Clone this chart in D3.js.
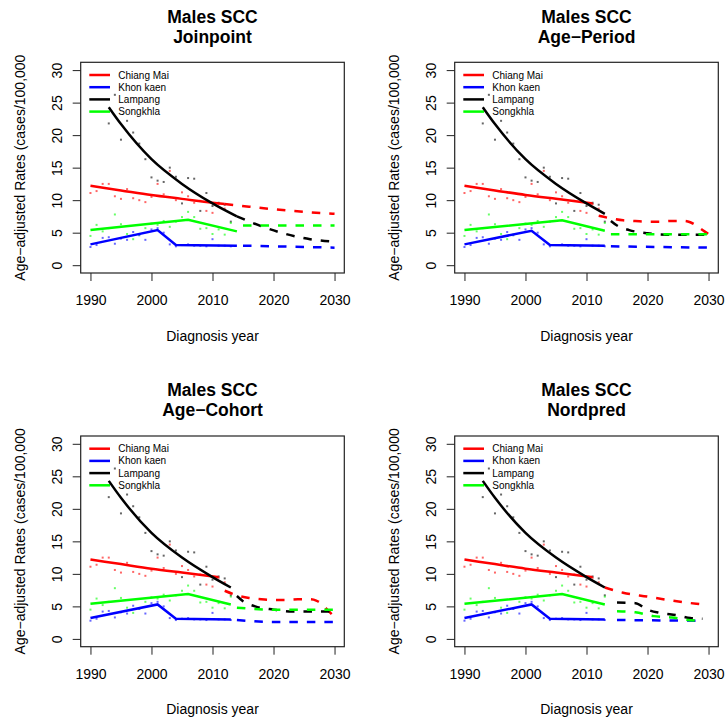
<!DOCTYPE html>
<html>
<head>
<meta charset="utf-8">
<script src="https://cdn.jsdelivr.net/npm/d3@7"></script>
<style>
  body { margin: 0; background: #fff; }
  svg text { font-family: "Liberation Sans", Arial, sans-serif; fill: #000; }
</style>
</head>
<body>
<div id="chart"></div>
<script>
// ---- data ----
const panelTitles = ["Joinpoint", "Age\u2212Period", "Age\u2212Cohort", "Nordpred"];
const regions = ["Chiang Mai", "Khon kaen", "Lampang", "Songkhla"];
const regionColors = ["#ff0000", "#0000ff", "#000000", "#00ff00"];
const xTicks = [1990, 2000, 2010, 2020, 2030];
const yTicks = [0, 5, 10, 15, 20, 25, 30];

// observed rates (dots)
const obsChiangMai = [[1990,11.1],[1991,11.4],[1992,12.5],[1993,12.5],[1994,10.6],[1995,10.2],[1996,11.7],[1997,10.3],[1998,10.0],[1999,9.7],[2000,10.5],[2001,12.5],[2002,10.9],[2003,14.5],[2004,10.0],[2005,11.2],[2006,10.6],[2007,9.6],[2008,9.9],[2009,8.35],[2010,8.05],[2011,9.4],[2012,8.7]];
const obsKhonKaen = [[1990,2.8],[1991,3.1],[1992,4.2],[1993,4.3],[1994,3.3],[1995,4.1],[1996,3.9],[1997,5.1],[1998,4.6],[1999,3.9],[2000,5.5],[2001,5.7],[2002,5.0],[2003,3.2],[2004,2.9],[2005,3.1],[2006,3.2],[2007,3.0],[2008,3.0],[2009,2.9],[2010,4.0],[2011,3.0],[2012,3.0],[2013,2.9]];
const obsLampang = [[1993,21.8],[1994,26.2],[1995,19.3],[1996,22.2],[1997,20.4],[1998,18.7],[1999,16.3],[2000,13.5],[2001,13.0],[2002,12.8],[2003,15.0],[2004,13.6],[2005,9.5],[2006,13.4],[2007,13.3],[2008,8.35],[2009,11.1],[2010,9.1],[2011,9.6],[2012,9.3],[2013,6.7]];
const obsSongkhla = [[1990,4.5],[1991,6.2],[1992,5.2],[1993,5.7],[1994,7.8],[1995,6.3],[1996,4.8],[1997,4.0],[1998,4.7],[1999,5.7],[2000,6.4],[2001,6.2],[2002,6.8],[2003,5.9],[2004,6.7],[2005,7.4],[2006,8.2],[2007,7.4],[2008,5.6],[2009,5.7],[2010,4.8],[2011,5.5],[2012,4.7],[2013,6.5]];

// fitted lines (solid), joinpoint panel
const solidJoinpoint = [
  [[1990,12.2],[1995,11.5],[2000,10.8],[2005,10.2],[2010,9.6],[2012,9.4]],
  [[1990,3.2],[2001,5.4],[2004,3.1],[2014,3.0]],
  [[1993,24.3],[1995,21.7],[2000,16.3],[2005,12.5],[2010,9.5],[2014,7.5]],
  [[1990,5.4],[2006,7.0],[2014,5.2]]
];
// fitted lines (solid), the other three panels
const solidOther = [
  [[1990,12.2],[1995,11.5],[2000,10.8],[2005,10.2],[2011,9.5]],
  [[1990,3.2],[2001,5.3],[2004,3.1],[2013,3.0]],
  [[1993,24.3],[1995,21.7],[2000,16.3],[2005,12.5],[2010,9.5],[2013,7.9]],
  [[1990,5.4],[2006,6.9],[2013,5.3]]
];

// projections (dashed)
const dashJoinpoint = [
  [[2012,9.4],[2016,9.0],[2020,8.6],[2025,8.2],[2030,7.9]],
  [[2015,3.0],[2030,2.7]],
  [[2014,7.5],[2018,6.0],[2022,4.8],[2026,4.0],[2030,3.6]],
  [[2015,6.1],[2030,6.1]]
];
const dashAgePeriod = [
  [[2012,7.6],[2014,7.2],[2016,6.9],[2018,6.8],[2020,6.7],[2022,6.7],[2024,6.8],[2026,6.8],[2027,6.6],[2028,6.1],[2029,5.4],[2030,4.8]],
  [[2014,2.9],[2030,2.7]],
  [[2014,6.8],[2015,6.1],[2017,5.4],[2020,4.9],[2023,4.7],[2030,4.7]],
  [[2014,4.75],[2030,4.75]]
];
const dashAgeCohort = [
  [[2012,7.4],[2014,6.7],[2016,6.3],[2018,6.1],[2020,6.0],[2022,6.0],[2024,6.1],[2026,6.1],[2027,5.9],[2028,5.3],[2029,4.3],[2030,3.4]],
  [[2014,2.9],[2020,2.6],[2030,2.6]],
  [[2014,6.6],[2015,5.8],[2017,5.0],[2020,4.5],[2023,4.2],[2030,4.2]],
  [[2014,4.8],[2020,4.5],[2030,4.5]]
];
const dashNordpred = [
  [[2013,7.9],[2016,7.1],[2020,6.5],[2024,5.9],[2028,5.4],[2029,5.3]],
  [[2015,2.9],[2028,2.8]],
  [[2015,5.6],[2018,5.5],[2020,4.5],[2022,4.0],[2025,3.6],[2027,3.2],[2029,3.1]],
  [[2015,4.25],[2018,4.1],[2021,3.5],[2024,3.3],[2026,3.0],[2028,2.8]]
];

const observed = [obsChiangMai, obsKhonKaen, obsLampang, obsSongkhla];
const solids = [solidJoinpoint, solidOther, solidOther, solidOther];
const dashes = [dashJoinpoint, dashAgePeriod, dashAgeCohort, dashNordpred];

// ---- layout ----
const W = 727, H = 722;
const panelOrigins = [[0, 0], [374, 0], [0, 373.7], [374, 373.7]];
const box = {left: 80.7, right: 344.3, top: 62.3, bottom: 273};

const svg = d3.select("#chart").append("svg")
  .attr("width", W).attr("height", H)
  .style("background", "#fff");

// R-style 4% padding on both axes
const x = d3.scaleLinear().domain([1988.4, 2031.6]).range([box.left, box.right]);
const y = d3.scaleLinear().domain([-1.2, 31.2]).range([box.bottom, box.top]);

const lineSmooth = d3.line().x(d => x(d[0])).y(d => y(d[1])).curve(d3.curveMonotoneX);
const lineStraight = d3.line().x(d => x(d[0])).y(d => y(d[1]));
// Khon kaen and Songkhla fits are joinpoint-like (straight segments)
const regionLine = [lineSmooth, lineStraight, lineSmooth, lineStraight];

panelTitles.forEach(function(title, p) {
  const g = svg.append("g")
    .attr("transform", "translate(" + panelOrigins[p][0] + "," + panelOrigins[p][1] + ")");
  const cx = (box.left + box.right) / 2;

  // title
  g.append("text").attr("x", cx).attr("y", 22.7).attr("text-anchor", "middle")
    .style("font-size", "17.5px").style("font-weight", "bold").text("Males SCC");
  g.append("text").attr("x", cx).attr("y", 42.7).attr("text-anchor", "middle")
    .style("font-size", "17.5px").style("font-weight", "bold").text(title);

  // axes
  const xAxis = g.append("g").attr("transform", "translate(0," + box.bottom + ")")
    .call(d3.axisBottom(x).tickValues(xTicks).tickFormat(d3.format("d"))
      .tickSize(8).tickSizeOuter(0).tickPadding(14));
  xAxis.select(".domain").remove();
  xAxis.selectAll("text").style("font-size", "14px").style("font-family", null);
  xAxis.selectAll("line").attr("stroke", "#222");

  const yAxis = g.append("g").attr("transform", "translate(" + box.left + ",0)")
    .call(d3.axisLeft(y).tickValues(yTicks).tickSize(8).tickSizeOuter(0));
  yAxis.select(".domain").remove();
  yAxis.selectAll("line").attr("stroke", "#222");
  yAxis.selectAll("text")
    .attr("x", null).attr("dy", null)
    .attr("transform", "translate(-19,0) rotate(-90)")
    .attr("text-anchor", "middle")
    .style("font-size", "14px");

  // axis titles
  g.append("text").attr("x", cx).attr("y", 340.7).attr("text-anchor", "middle")
    .style("font-size", "14px").text("Diagnosis year");
  g.append("text")
    .attr("transform", "translate(25," + ((box.top + box.bottom) / 2) + ") rotate(-90)")
    .attr("text-anchor", "middle")
    .style("font-size", "14px").text("Age\u2212adjusted Rates (cases/100,000");

  // legend (no box)
  const leg = g.append("g");
  regions.forEach(function(name, i) {
    const ly = 75 + i * 12.2;
    leg.append("line").attr("x1", 89.3).attr("x2", 110).attr("y1", ly).attr("y2", ly)
      .attr("stroke", regionColors[i]).attr("stroke-width", 2.5);
    leg.append("text").attr("x", 118.3).attr("y", ly).attr("dy", "0.35em")
      .style("font-size", "10px").text(name);
  });

  // observed dots
  observed.forEach(function(series, i) {
    g.append("g").selectAll("rect").data(series).join("rect")
      .attr("x", d => x(d[0]) - 1).attr("y", d => y(d[1]) - 1)
      .attr("width", 2).attr("height", 2)
      .attr("fill", regionColors[i]).attr("fill-opacity", 0.6);
  });

  // fitted (solid) and projected (dashed) lines
  regions.forEach(function(name, i) {
    g.append("path").datum(solids[p][i])
      .attr("d", regionLine[i])
      .attr("fill", "none").attr("stroke", regionColors[i]).attr("stroke-width", 2.5);
    g.append("path").datum(dashes[p][i])
      .attr("d", lineSmooth)
      .attr("fill", "none").attr("stroke", regionColors[i]).attr("stroke-width", 2.5)
      .attr("stroke-dasharray", "8.5,9");
  });

  // plot box
  g.append("rect").attr("x", box.left).attr("y", box.top)
    .attr("width", box.right - box.left).attr("height", box.bottom - box.top)
    .attr("fill", "none").attr("stroke", "#222").attr("stroke-width", 1.2);
});
</script>
</body>
</html>
